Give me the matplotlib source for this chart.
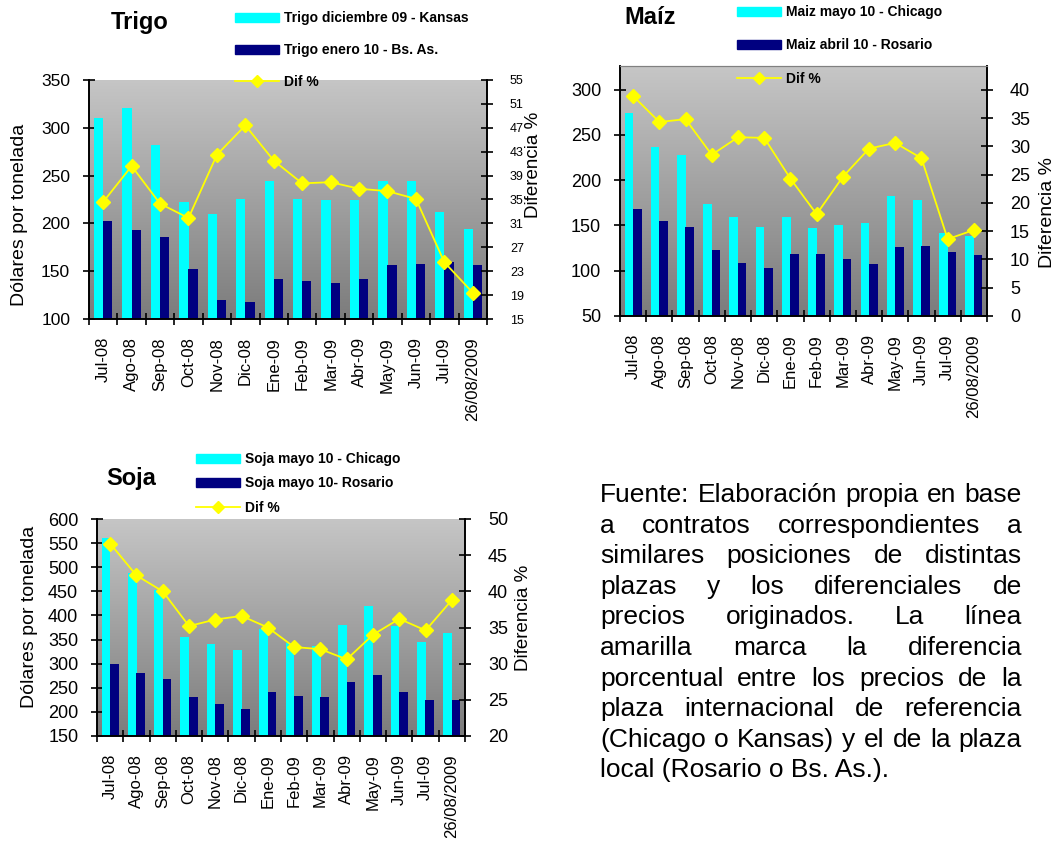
import numpy as np
import matplotlib
matplotlib.use('Agg')
import matplotlib.pyplot as plt
from matplotlib.colors import LinearSegmentedColormap
from matplotlib.lines import Line2D
from matplotlib.patches import Patch

plt.rcParams['font.family'] = ['Liberation Sans', 'DejaVu Sans']

meses = ['Jul-08', 'Ago-08', 'Sep-08', 'Oct-08', 'Nov-08', 'Dic-08', 'Ene-09',
         'Feb-09', 'Mar-09', 'Abr-09', 'May-09', 'Jun-09', 'Jul-09', '26/08/2009']

trigo_kansas = [310, 321, 282, 222, 210, 226, 244, 226, 224, 224, 244, 244, 212, 194]
trigo_bsas = [202, 193, 186, 152, 120, 118, 142, 140, 138, 142, 156, 158, 160, 156]
trigo_dif = [34.6, 40.6, 34.3, 31.9, 42.5, 47.4, 41.5, 37.7, 37.9, 36.8, 36.4, 35.1, 24.5, 19.4]

maiz_chicago = [274, 237, 228, 174, 159, 148, 159, 147, 150, 153, 182, 178, 142, 138]
maiz_rosario = [168, 155, 148, 123, 109, 103, 119, 119, 113, 107, 126, 127, 121, 117]
maiz_dif = [38.9, 34.3, 34.8, 28.5, 31.6, 31.5, 24.3, 18.0, 24.6, 29.6, 30.6, 27.9, 13.6, 15.2]

soja_chicago = [560, 487, 452, 356, 340, 328, 371, 343, 336, 380, 419, 379, 344, 364]
soja_rosario = [300, 281, 269, 230, 217, 206, 241, 233, 230, 261, 276, 241, 225, 225]
soja_dif = [46.6, 42.2, 40.0, 35.2, 36.1, 36.6, 35.0, 32.3, 32.0, 30.6, 34.0, 36.2, 34.6, 38.8]

fuente = ["Fuente: Elaboración propia en base",
          "a contratos correspondientes a",
          "similares posiciones de distintas",
          "plazas y los diferenciales de",
          "precios originados. La línea",
          "amarilla marca la diferencia",
          "porcentual entre los precios de la",
          "plaza internacional de referencia",
          "(Chicago o Kansas) y el de la plaza",
          "local (Rosario o Bs. As.)."]

W, H = 1062, 850
fig = plt.figure(figsize=(W / 100, H / 100), dpi=100)

gris = LinearSegmentedColormap.from_list('gris', ['#7c7c7c', '#c6c6c6'])
grad = np.linspace(0, 1, 256).reshape(-1, 1)


def rect(l, t, r, b):
    return [l / W, 1 - b / H, (r - l) / W, (b - t) / H]


def panel(caja, serie1, serie2, dif, ylim, yticks, ylim2, yticks2,
          size_l, size_r, borde_sup):
    ax = fig.add_axes(rect(*caja))
    ax.imshow(grad, extent=[0, 1, 0, 1], transform=ax.transAxes, cmap=gris,
              aspect='auto', origin='lower', zorder=0)
    x = np.arange(len(meses)) + 0.5
    ax.bar(x - 0.16, serie1, width=0.33, color='#00FFFF', zorder=2)
    ax.bar(x + 0.16, serie2, width=0.33, color='#000080', zorder=2)
    ax.set_xlim(0, len(meses))
    ax.set_ylim(*ylim)
    ax.set_yticks(yticks)
    ax.set_xticks(np.arange(len(meses) + 1))
    ax.set_xticklabels([])
    ax.set_xticks(x, minor=True)
    ax.set_xticklabels(meses, minor=True, rotation=90, fontsize=12)
    ax.tick_params(axis='x', which='minor', length=0, pad=13)
    ax.tick_params(axis='x', which='major', direction='inout', length=9, width=1.2)
    ax.tick_params(axis='y', direction='inout', length=9, width=1.2,
                   labelsize=size_l, pad=9)

    ax2 = ax.twinx()
    ax2.plot(x, dif, color='#FFFF00', lw=1.3, marker='D', ms=7, zorder=3)
    ax2.set_ylim(*ylim2)
    ax2.set_yticks(yticks2)
    ax2.tick_params(axis='y', direction='inout', length=9, width=1.2,
                    labelsize=size_r, pad=12)

    for a in (ax, ax2):
        for s in ('left', 'right', 'bottom'):
            a.spines[s].set_linewidth(1.2)
        if borde_sup:
            a.spines['top'].set_color('#808080')
        else:
            a.spines['top'].set_visible(False)
    return ax, ax2


def leyenda(ax, etiquetas, x, y, esp):
    h = [Patch(color='#00FFFF'), Patch(color='#000080'),
         Line2D([], [], color='#FFFF00', lw=1.3, marker='D', ms=6)]
    ax.legend(h, etiquetas, loc='upper left', bbox_to_anchor=(x / W, 1 - y / H),
              bbox_transform=fig.transFigure, frameon=False,
              prop={'size': 10, 'weight': 'bold'}, handlelength=3.2,
              handleheight=0.6, handletextpad=0.3, labelspacing=esp,
              borderpad=0, borderaxespad=0)


# Trigo
ax, ax2 = panel((89, 80, 487, 319), trigo_kansas, trigo_bsas, trigo_dif,
                (100, 350), range(100, 351, 50), (15, 55), range(15, 56, 4),
                12.5, 9, False)
leyenda(ax2, ['Trigo diciembre 09 - Kansas', 'Trigo enero 10 - Bs. As.', 'Dif %'],
        235, 11, 1.3)
fig.text(140 / W, 1 - 22 / H, 'Trigo', fontsize=17, fontweight='bold',
         ha='center', va='center')
fig.text(20 / W, 1 - 215 / H, 'Dólares por tonelada', fontsize=14,
         rotation=90, ha='center', va='center')
fig.text(533 / W, 1 - 165 / H, 'Diferencia %', fontsize=13.5,
         rotation=90, ha='center', va='center')

# Maíz
ax, ax2 = panel((620, 66, 987, 316), maiz_chicago, maiz_rosario, maiz_dif,
                (50, 326), range(50, 301, 50), (0, 44.2), range(0, 41, 5),
                13, 13, True)
leyenda(ax2, ['Maiz mayo 10 - Chicago', 'Maiz abril 10 - Rosario', 'Dif %'],
        737, 5, 1.4)
fig.text(650 / W, 1 - 17 / H, 'Maíz', fontsize=17, fontweight='bold',
         ha='center', va='center')
fig.text(1047 / W, 1 - 212 / H, 'Diferencia %', fontsize=14,
         rotation=90, ha='center', va='center')

# Soja
ax, ax2 = panel((97, 519, 465, 736), soja_chicago, soja_rosario, soja_dif,
                (150, 600), range(150, 601, 50), (20, 50), range(20, 51, 5),
                13, 13, False)
leyenda(ax2, ['Soja mayo 10 - Chicago', 'Soja mayo 10- Rosario', 'Dif %'],
        196, 452, 0.75)
fig.text(131 / W, 1 - 478 / H, 'Soja', fontsize=17, fontweight='bold',
         ha='center', va='center')
fig.text(30 / W, 1 - 617 / H, 'Dólares por tonelada', fontsize=14,
         rotation=90, ha='center', va='center')
fig.text(523 / W, 1 - 618 / H, 'Diferencia %', fontsize=13.5,
         rotation=90, ha='center', va='center')


# texto justificado de la fuente
def justificar(lineas, x0, x1, y0, dy, size):
    r = fig.canvas.get_renderer()
    for i, linea in enumerate(lineas):
        y = 1 - (y0 + i * dy) / H
        if i == len(lineas) - 1:
            fig.text(x0 / W, y, linea, fontsize=size, va='baseline')
            continue
        palabras = linea.split()
        textos = [fig.text(0, y, p, fontsize=size, va='baseline') for p in palabras]
        anchos = [t.get_window_extent(r).width for t in textos]
        hueco = (x1 - x0 - sum(anchos)) / (len(palabras) - 1)
        pos = x0
        for t, a in zip(textos, anchos):
            t.set_x(pos / W)
            pos += a + hueco


justificar(fuente, 600, 1022, 502, 30.6, 19)

fig.savefig('out.png', dpi=100)
